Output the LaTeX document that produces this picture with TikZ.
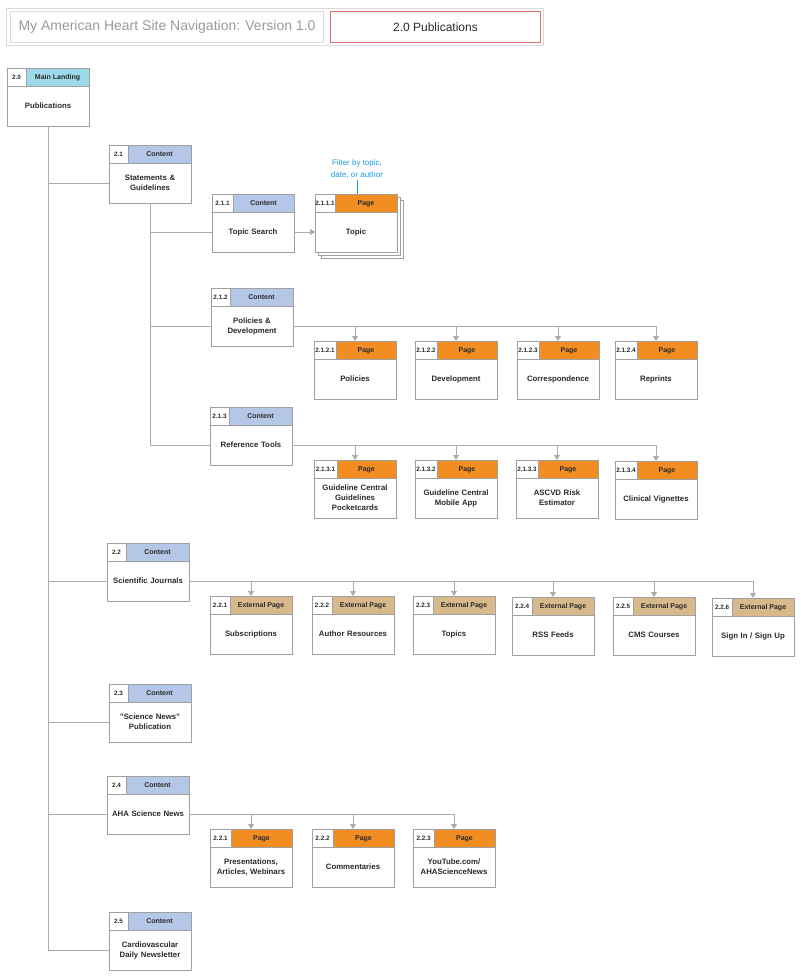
\documentclass[tikz,border=0pt]{standalone}
\usepackage{fontspec}
\setmainfont{Liberation Sans}
\usetikzlibrary{arrows.meta}
\definecolor{bordergray}{HTML}{A0A0A0}
\definecolor{linegray}{HTML}{ABABAB}
\definecolor{textdark}{HTML}{2A2A2A}
\definecolor{contentblue}{HTML}{B4C7E7}
\definecolor{landingcyan}{HTML}{9ED9EA}
\definecolor{pageorange}{HTML}{F18D21}
\definecolor{exttan}{HTML}{D7B98C}
\definecolor{filterblue}{HTML}{1A9CE8}
\definecolor{framegray}{HTML}{DADADA}
\definecolor{titlegray}{HTML}{9A9A9A}
\definecolor{redframe}{HTML}{E07070}
\tikzset{
  bodybox/.style={draw=bordergray, fill=white, line width=0.8pt, outer sep=0pt,
    minimum width=82pt, minimum height=40pt, inner sep=1pt, align=center,
    text width=79pt, font=\fontsize{7.8}{10}\selectfont\bfseries, text=textdark},
  numcell/.style={draw=bordergray, fill=white, line width=0.8pt, outer sep=0pt,
    minimum height=18pt, inner sep=0pt, text height=4.6pt, text depth=0pt,
    font=\fontsize{6.3}{7}\selectfont\bfseries, text=textdark},
  typecell/.style={draw=bordergray, line width=0.8pt, outer sep=0pt,
    minimum height=18pt, inner sep=0pt, text height=5.1pt, text depth=0pt,
    font=\fontsize{7}{8}\selectfont\bfseries, text=textdark},
  stackbox/.style={draw=bordergray, fill=white, line width=0.8pt},
  conn/.style={draw=linegray, line width=0.9pt},
  arr/.style={conn, -{Triangle[width=6pt,length=5pt]}},
  filterline/.style={draw=filterblue, line width=0.8pt},
}
\newcommand{\navbox}[8]{%
  \pgfmathsetmacro{\navhw}{82-#5}%
  \node[bodybox, anchor=north west] (#1) at (#2,#3+18) {#8};
  \node[numcell, minimum width=#5pt, anchor=north west] (#1n) at (#2,#3) {#4};
  \node[typecell, fill=#7, minimum width=\navhw pt, anchor=north west] (#1h) at (#2+#5,#3) {#6};
}
\begin{document}
\begin{tikzpicture}[x=1pt, y=-1pt]
\useasboundingbox (0,0) rectangle (800,979);
% header
\node[draw=framegray, line width=1.3pt, minimum width=537pt, minimum height=37pt, anchor=north west, inner sep=0pt] (frame) at (6,8) {};
\node[draw=framegray, line width=1pt, minimum width=313pt, minimum height=31pt, anchor=north west, inner sep=0pt,
  font=\fontsize{14}{16}\selectfont, text=titlegray] (title) at (10,11) {My American Heart Site Navigation: Version 1.0};
\node[draw=redframe, line width=1pt, minimum width=210pt, minimum height=31pt, anchor=north west, inner sep=0pt,
  font=\fontsize{12}{14}\selectfont, text=textdark] (section) at (330,11) {2.0 Publications};

% boxes
\navbox{p20}{7}{68}{2.0}{19}{Main Landing}{landingcyan}{Publications}
\navbox{p21}{109}{145}{2.1}{19}{Content}{contentblue}{Statements \&\\Guidelines}
\navbox{p211}{212}{194}{2.1.1}{21}{Content}{contentblue}{Topic Search}
% topic stack
\draw[stackbox] (321,200) rectangle (403,258);
\draw[stackbox] (318,197) rectangle (400,255);
\navbox{ptopic}{315}{194}{2.1.1.1}{20}{Page}{pageorange}{Topic}
\node[align=center, font=\fontsize{8}{12}\selectfont, text=filterblue, inner sep=1pt] (filter) at (357,169) {Filter by topic,\\date, or author};

\navbox{p212}{211}{288}{2.1.2}{19}{Content}{contentblue}{Policies \&\\Development}
\navbox{p2121}{314}{341}{2.1.2.1}{22}{Page}{pageorange}{Policies}
\navbox{p2122}{415}{341}{2.1.2.2}{22}{Page}{pageorange}{Development}
\navbox{p2123}{517}{341}{2.1.2.3}{22}{Page}{pageorange}{Correspondence}
\navbox{p2124}{615}{341}{2.1.2.4}{22}{Page}{pageorange}{Reprints}

\navbox{p213}{210}{407}{2.1.3}{19}{Content}{contentblue}{Reference Tools}
\navbox{p2131}{314}{460}{2.1.3.1}{23}{Page}{pageorange}{Guideline Central\\Guidelines\\Pocketcards}
\navbox{p2132}{415}{460}{2.1.3.2}{22}{Page}{pageorange}{Guideline Central\\Mobile App}
\navbox{p2133}{516}{460}{2.1.3.3}{22}{Page}{pageorange}{ASCVD Risk\\Estimator}
\navbox{p2134}{615}{461}{2.1.3.4}{22}{Page}{pageorange}{Clinical Vignettes}

\navbox{p22}{107}{543}{2.2}{19}{Content}{contentblue}{Scientific Journals}
\navbox{p221}{210}{596}{2.2.1}{20}{External Page}{exttan}{Subscriptions}
\navbox{p222}{312}{596}{2.2.2}{20}{External Page}{exttan}{Author Resources}
\navbox{p223}{413}{596}{2.2.3}{20}{External Page}{exttan}{Topics}
\navbox{p224}{512}{597}{2.2.4}{20}{External Page}{exttan}{RSS Feeds}
\navbox{p225}{613}{597}{2.2.5}{20}{External Page}{exttan}{CMS Courses}
\navbox{p226}{712}{598}{2.2.6}{20}{External Page}{exttan}{Sign In / Sign Up}

\navbox{p23}{109}{684}{2.3}{19}{Content}{contentblue}{"Science News"\\Publication}

\navbox{p24}{107}{776}{2.4}{19}{Content}{contentblue}{AHA Science News}
\navbox{p241}{210}{829}{2.2.1}{21}{Page}{pageorange}{Presentations,\\Articles, Webinars}
\navbox{p242}{312}{829}{2.2.2}{21}{Page}{pageorange}{Commentaries}
\navbox{p243}{413}{829}{2.2.3}{21}{Page}{pageorange}{YouTube.com/\\AHAScienceNews}

\navbox{p25}{109}{912}{2.5}{19}{Content}{contentblue}{Cardiovascular\\Daily Newsletter}

% main trunk
\draw[conn] (p20.south) |- (p25.west);
\foreach \c in {p21,p22,p23,p24} \draw[conn] (p20.south |- \c.west) -- (\c.west);
% 2.1 trunk
\draw[conn] (p21.south) |- (p213.west);
\foreach \c in {p211,p212} \draw[conn] (p21.south |- \c.west) -- (\c.west);
\draw[arr] (p211.east) -- (ptopic.west);
\draw[filterline] (filter.south) -- (filter.south |- ptopich.north);
% 2.1.2 children
\draw[conn] (p212.east) -- (p212.east -| p2124.center);
\foreach \c in {p2121,p2122,p2123,p2124} \draw[arr] (p212.east -| \c.center) -- (\c h.north -| \c.center);
% 2.1.3 children
\draw[conn] (p213.east) -- (p213.east -| p2134.center);
\foreach \c in {p2131,p2132,p2133,p2134} \draw[arr] (p213.east -| \c.center) -- (\c h.north -| \c.center);
% 2.2 children
\draw[conn] (p22.east) -- (p22.east -| p226.center);
\foreach \c in {p221,p222,p223,p224,p225,p226} \draw[arr] (p22.east -| \c.center) -- (\c h.north -| \c.center);
% 2.4 children
\draw[conn] (p24.east) -- (p24.east -| p243.center);
\foreach \c in {p241,p242,p243} \draw[arr] (p24.east -| \c.center) -- (\c h.north -| \c.center);
\end{tikzpicture}
\end{document}
